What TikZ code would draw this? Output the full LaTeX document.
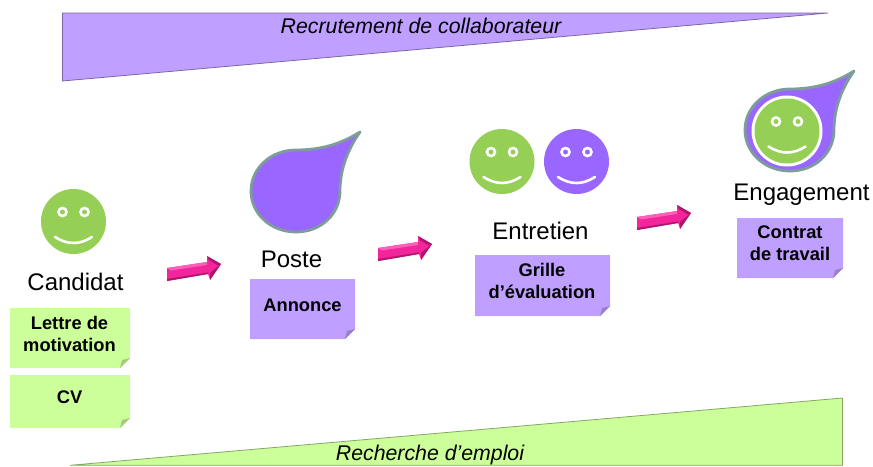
\documentclass[tikz,border=0pt]{standalone}
\usepackage{fontspec}
\setmainfont{Liberation Sans}
\definecolor{facegreen}{HTML}{95CF55}
\definecolor{facepurple}{HTML}{9966FF}
\definecolor{notegreen}{HTML}{CCFF99}
\definecolor{notepurple}{HTML}{BF9FFF}
\definecolor{foldgreen}{HTML}{A3CC7A}
\definecolor{foldpurple}{HTML}{9980CC}
\definecolor{dropedge}{HTML}{7F9C9C}
\definecolor{pinkmain}{HTML}{F2259A}
\definecolor{pinklight}{HTML}{FF5FBB}
\definecolor{pinkdark}{HTML}{B0146C}
\tikzset{
  x=1pt,y=-1pt,
  steplabel/.style={font=\fontsize{24}{26}\selectfont,text=black,inner sep=0pt,anchor=base},
  notelabel/.style={font=\fontsize{18.3}{22}\selectfont\bfseries,text=black,align=center,inner sep=0pt},
  bandlabel/.style={font=\fontsize{21.3}{24}\selectfont\itshape,text=black,inner sep=0pt,anchor=base},
  pics/smiley/.style={code={
    \fill[#1] (0,0) circle[radius=32.5];
    \fill[white] (-11,-9.5) circle[radius=5.4] (11,-9.5) circle[radius=5.4];
    \fill[#1] (-11,-9.5) circle[radius=2.5] (11,-9.5) circle[radius=2.5];
    \draw[white,line width=2.6pt,line cap=round] (-18.5,15.5) .. controls (-6,23.5) and (6,23.5) .. (18.5,15.5);
  }},
  pics/fatarrow/.style={code={
    % origin is the tip of the arrow
    \fill[pinkmain] (-54,4) -- (-14,-2) -- (-14,-8) -- (0,0) -- (-11,16) -- (-13,10) -- (-54,17) -- cycle;
    \fill[pinklight] (-54,4) -- (-14,-2) -- (-14,1) -- (-50,6.5) -- cycle;
    \fill[pinkdark] (-54,15) -- (-13,8.5) -- (-13,10) -- (-54,17) -- cycle;
    \fill[pinkdark] (-14,-8) -- (0,0) -- (-3,1.5) -- (-12,-4) -- cycle;
    \fill[pinkdark] (0,0) -- (-11,16) -- (-11,9) -- cycle;
  }},
}
\newcommand{\teardrop}{(64,-59) .. controls (45,-47) and (25,-41) .. (0,-41) .. controls (-25,-41) and (-45,-23) .. (-45,0) .. controls (-45,23) and (-25,41) .. (0,41) .. controls (25,41) and (44,23) .. (44,0) .. controls (44,-22) and (52,-42) .. (64,-59) -- cycle}
% left, top, right, bottom, fill, fold
\newcommand{\stickynote}[6]{%
  \fill[#5] (#1,#2) -- (#3,#2) -- (#3,#4-10) -- (#3-10,#4) -- (#1,#4) -- cycle;
  \fill[#6] (#3,#4-10) -- (#3-10,#4) -- (#3-8,#4-8) -- cycle;
}
\begin{document}
\begin{tikzpicture}
\useasboundingbox (0,0) rectangle (873,466);
% bands
\draw[fill=notepurple,draw=black!35!notepurple,line width=0.8pt] (62.5,13) -- (828,13) -- (62.5,81) -- cycle;
\draw[fill=notegreen,draw=black!35!notegreen,line width=0.8pt] (70,465.3) -- (842.5,398) -- (842.5,465.3) -- cycle;
\node[bandlabel] (bandtop) at (421,33) {Recrutement de collaborateur};
\node[bandlabel] (bandbottom) at (430,460) {Recherche d’emploi};
% candidat
\pic at (73.5,221.5) {smiley=facegreen};
\node[steplabel] (candidat) at (75.5,290) {Candidat};
\stickynote{10}{308}{130}{368}{notegreen}{foldgreen}
\node[notelabel] (lettre) at (69.5,334) {Lettre de\\motivation};
\stickynote{10}{375}{130}{428}{notegreen}{foldgreen}
\node[notelabel] (cv) at (69.5,397) {CV};
% poste
\begin{scope}[shift={(296,191)}]
  \draw[fill=facepurple,draw=dropedge,line width=2.8pt,line join=round] \teardrop;
\end{scope}
\node[steplabel] (poste) at (291.5,267) {Poste};
\stickynote{250}{279}{355}{339}{notepurple}{foldpurple}
\node[notelabel] (annonce) at (302.5,305) {Annonce};
% entretien
\pic at (502,161.5) {smiley=facegreen};
\pic at (576.5,161.5) {smiley=facepurple};
\node[steplabel] (entretien) at (540.5,239) {Entretien};
\stickynote{475}{255}{610}{316}{notepurple}{foldpurple}
\node[notelabel] (grille) at (542,281) {Grille\\d’évaluation};
% engagement
\begin{scope}[shift={(790,130)}]
  \draw[fill=facepurple,draw=dropedge,line width=2.8pt,line join=round] \teardrop;
\end{scope}
\fill[white] (787,131) circle[radius=35.5];
\pic at (787,131) {smiley=facegreen};
\node[steplabel] (engagement) at (801.5,200) {Engagement};
\stickynote{737}{218}{843}{278}{notepurple}{foldpurple}
\node[notelabel] (contrat) at (790,243.5) {Contrat\\de travail};
% arrows
\pic at (221,264) {fatarrow};
\pic at (432,244) {fatarrow};
\pic at (691,213) {fatarrow};
\end{tikzpicture}
\end{document}
